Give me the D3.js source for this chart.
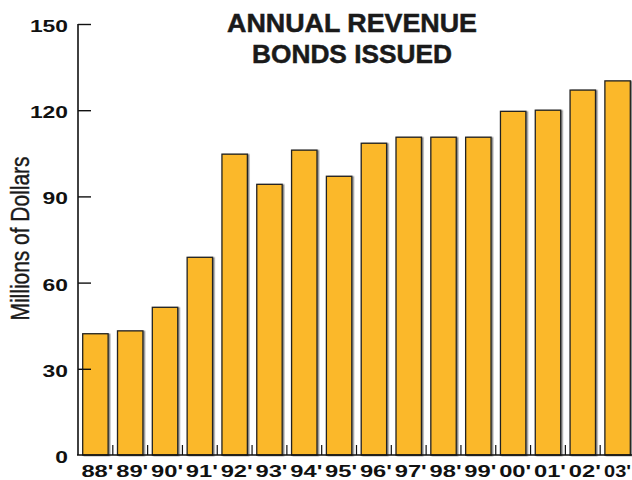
<!DOCTYPE html>
<html>
<head>
<meta charset="utf-8">
<script src="https://cdn.jsdelivr.net/npm/d3@7"></script>
<style>
  html, body { margin: 0; padding: 0; background: #fff; }
  svg { display: block; }
</style>
</head>
<body>
<script>
// Annual revenue bonds issued, millions of dollars
const years = ["88'", "89'", "90'", "91'", "92'", "93'", "94'", "95'", "96'", "97'", "98'", "99'", "00'", "01'", "02'", "03'"];
const amounts = [42.2, 43.2, 51.4, 68.8, 104.7, 94.2, 106.1, 97.0, 108.5, 110.6, 110.6, 110.6, 119.6, 120.0, 127.0, 130.2];
const yTicks = [0, 30, 60, 90, 120, 150];
const titleLines = ["ANNUAL REVENUE", "BONDS ISSUED"];
const yLabel = "Millions of Dollars";

const W = 632, H = 480;
const svg = d3.select("body").append("svg").attr("width", W).attr("height", H);

const defs = svg.append("defs");
const f = defs.append("filter").attr("id", "shade").attr("x", "-20%").attr("y", "-5%").attr("width", "140%").attr("height", "110%");
f.append("feDropShadow").attr("dx", 1.5).attr("dy", 0.5).attr("stdDeviation", 0.6)
  .attr("flood-color", "#555").attr("flood-opacity", 0.7);

const x = d3.scaleBand().domain(years).range([78, 635]).paddingInner(0.27).paddingOuter(0.135);
const y = d3.scaleLinear().domain([0, 150]).range([455, 24]);

// extended-looking bold face for the numerals
const wideFont = "Liberation Sans, Arial, sans-serif";

// bars
svg.append("g").selectAll("rect").data(amounts).join("rect")
  .attr("x", (d, i) => x(years[i]))
  .attr("y", d => y(d))
  .attr("width", x.bandwidth())
  .attr("height", d => y(0) - y(d))
  .attr("fill", "#FBB829")
  .attr("stroke", "#222")
  .attr("stroke-width", 1.3)
  .attr("filter", "url(#shade)");

// y axis with inward ticks
const yAxis = svg.append("g").attr("transform", "translate(78,0)")
  .call(d3.axisRight(y).tickValues(yTicks).tickSize(13).tickFormat(""));
yAxis.select(".domain").attr("d", `M0,${y(150)}V${y(0)}`).attr("stroke", "#111").attr("stroke-width", 1.6);
yAxis.selectAll(".tick line").attr("stroke", "#111").attr("stroke-width", 1.4)
  .filter(d => d === 0).remove();

svg.append("g").selectAll("text").data(yTicks).join("text")
  .attr("x", 68).attr("y", d => y(d) + 8)
  .attr("text-anchor", "end")
  .attr("font-family", wideFont)
  .attr("font-weight", "bold").attr("font-size", 17)
  .attr("textLength", d => String(d).length * 12.7)
  .attr("lengthAdjust", "spacingAndGlyphs")
  .attr("fill", "#111")
  .text(d => d);

// x axis baseline with short separators between bars
svg.append("line").attr("x1", 77).attr("x2", 632).attr("y1", y(0)).attr("y2", y(0))
  .attr("stroke", "#111").attr("stroke-width", 1.6);
const seps = years.slice(1);
svg.append("g").selectAll("line").data(seps).join("line")
  .attr("x1", d => x(d) - x.step() * x.paddingInner() / 2)
  .attr("x2", d => x(d) - x.step() * x.paddingInner() / 2)
  .attr("y1", y(0)).attr("y2", y(0) - 10)
  .attr("stroke", "#111").attr("stroke-width", 1.2);

svg.append("g").selectAll("text").data(years).join("text")
  .attr("x", (d, i) => x(d) + x.bandwidth() / 2 + (i === years.length - 1 ? 0 : 2))
  .attr("y", 477)
  .attr("text-anchor", "middle")
  .attr("font-family", wideFont)
  .attr("font-weight", "bold").attr("font-size", 16)
  .attr("textLength", (d, i) => i === years.length - 1 ? 27 : 32)
  .attr("lengthAdjust", "spacingAndGlyphs")
  .attr("fill", "#111")
  .text(d => d);

// title
const titleWidths = [250, 200];
svg.append("g").selectAll("text").data(titleLines).join("text")
  .attr("x", 352).attr("y", (d, i) => 32 + i * 31)
  .attr("text-anchor", "middle")
  .attr("font-family", "Liberation Sans, Arial, sans-serif")
  .attr("font-weight", "bold").attr("font-size", 25.5)
  .attr("textLength", (d, i) => titleWidths[i])
  .attr("lengthAdjust", "spacingAndGlyphs")
  .attr("fill", "#1a1a1a")
  .attr("stroke", "#1a1a1a").attr("stroke-width", 0.5)
  .text(d => d);

// y axis title, set condensed
svg.append("text")
  .attr("transform", "translate(29,238.5) rotate(-90)")
  .attr("text-anchor", "middle")
  .attr("font-family", "Liberation Sans, Arial, sans-serif")
  .attr("font-size", 26)
  .attr("textLength", 164)
  .attr("lengthAdjust", "spacingAndGlyphs")
  .attr("fill", "#1a1a1a")
  .attr("stroke", "#1a1a1a").attr("stroke-width", 0.4)
  .text(yLabel);
</script>
</body>
</html>
